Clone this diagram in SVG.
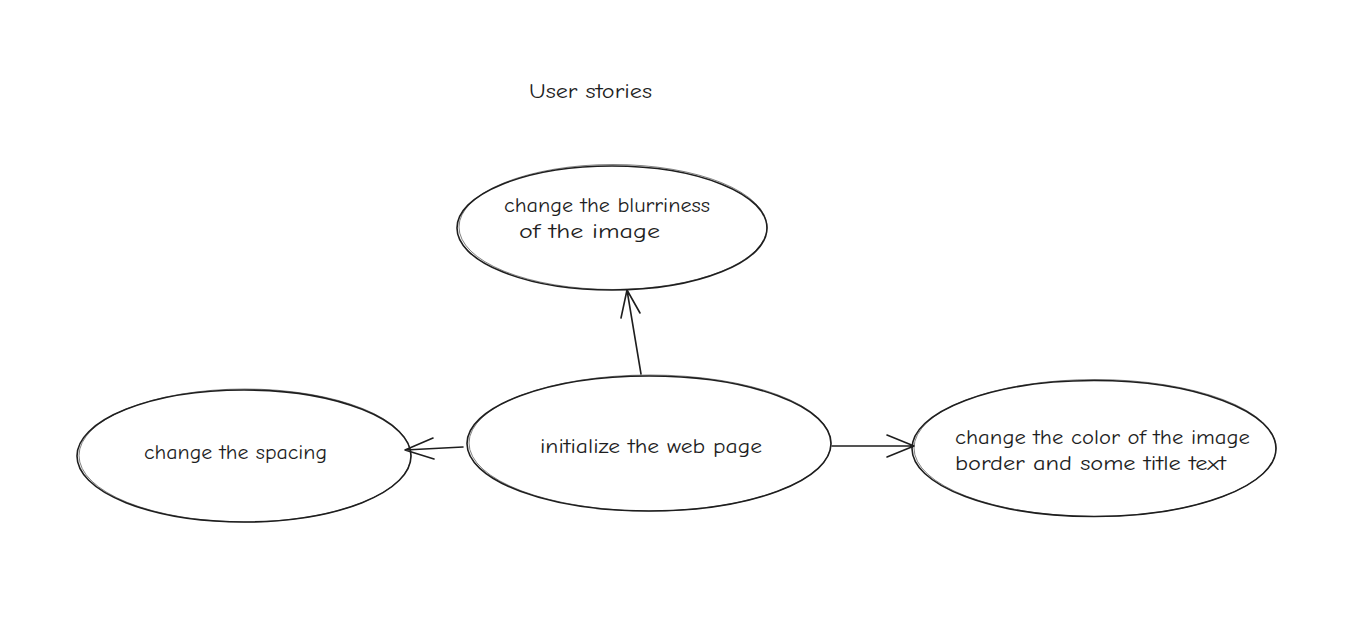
<svg xmlns="http://www.w3.org/2000/svg" width="1360" height="640" viewBox="0 0 1360 640">
<style>
.node{fill:none;stroke:#1e1e1e;stroke-width:1.6}
.sk{fill:none;stroke:#1e1e1e;stroke-width:0.8;opacity:0.7}
.lbl{font-family:"Comic Neue","Liberation Sans",sans-serif;font-size:20px;fill:#1e1e1e}
.edge{fill:none;stroke:#1e1e1e;stroke-width:1.6;stroke-linecap:round;stroke-linejoin:round}
</style>
<rect width="1360" height="640" fill="#ffffff"/>
<text class="lbl" x="529" y="98" textLength="123" lengthAdjust="spacingAndGlyphs">User stories</text>
<g id="node-blur">
<ellipse class="node" cx="612" cy="228" rx="155" ry="62"/>
<ellipse class="sk" cx="613" cy="227" rx="154" ry="62.5"/>
<text class="lbl" x="504" y="212" textLength="206" lengthAdjust="spacingAndGlyphs">change the blurriness</text>
<text class="lbl" x="519" y="238" textLength="141" lengthAdjust="spacingAndGlyphs">of the image</text>
</g>
<g id="node-init">
<ellipse class="node" cx="649" cy="443.5" rx="182" ry="67.5"/>
<ellipse class="sk" cx="650" cy="443" rx="181" ry="68"/>
<text class="lbl" x="540" y="453" textLength="222" lengthAdjust="spacingAndGlyphs">initialize the web page</text>
</g>
<g id="node-spacing">
<ellipse class="node" cx="244" cy="456" rx="167" ry="66"/>
<ellipse class="sk" cx="245" cy="455.5" rx="166" ry="66.5"/>
<text class="lbl" x="144" y="459" textLength="183" lengthAdjust="spacingAndGlyphs">change the spacing</text>
</g>
<g id="node-color">
<ellipse class="node" cx="1094" cy="448.5" rx="182" ry="68"/>
<ellipse class="sk" cx="1095" cy="448" rx="181" ry="68.5"/>
<text class="lbl" x="955" y="444" textLength="295" lengthAdjust="spacingAndGlyphs">change the color of the image</text>
<text class="lbl" x="955" y="470" textLength="271" lengthAdjust="spacingAndGlyphs">border and some title text</text>
</g>
<g id="connectors">
<path class="edge" d="M641 374 L627 290 M621 318 L627 290 L640 313"/>
<path class="edge" d="M463 447 L405 450 M433 438 L405 450 L434 459"/>
<path class="edge" d="M832 446 L914 446 M887 435 L914 446 L887 457"/>
</g>
</svg>
